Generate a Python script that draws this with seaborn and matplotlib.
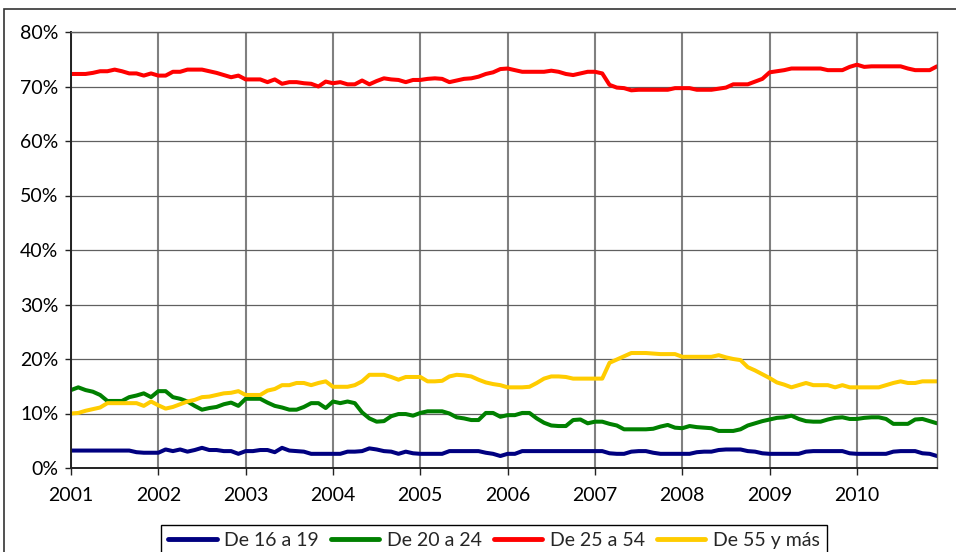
import numpy as np
import pandas as pd
import seaborn as sns
import matplotlib.pyplot as plt
from matplotlib.patches import Rectangle
from matplotlib.ticker import FuncFormatter

anios = list(range(2001, 2011))
grupos = ['De 16 a 19', 'De 20 a 24', 'De 25 a 54', 'De 55 y más']
colores = ['#000080', '#008000', '#FF0000', '#FFCC00']

# monthly shares (%), Jan 2001 - Dec 2010, one row per year
de_16_a_19 = [
    3.2, 3.2, 3.2, 3.2, 3.2, 3.2, 3.2, 3.2, 3.2, 2.9, 2.8, 2.8,
    2.8, 3.4, 3.1, 3.4, 3.0, 3.3, 3.7, 3.3, 3.3, 3.1, 3.1, 2.6,
    3.1, 3.1, 3.3, 3.3, 2.9, 3.7, 3.2, 3.1, 3.0, 2.6, 2.6, 2.6,
    2.6, 2.6, 3.0, 3.0, 3.1, 3.6, 3.4, 3.1, 3.0, 2.6, 3.0, 2.7,
    2.6, 2.6, 2.6, 2.6, 3.1, 3.1, 3.1, 3.1, 3.1, 2.8, 2.6, 2.2,
    2.6, 2.6, 3.1, 3.1, 3.1, 3.1, 3.1, 3.1, 3.1, 3.1, 3.1, 3.1,
    3.1, 3.1, 2.7, 2.6, 2.6, 3.0, 3.1, 3.1, 2.8, 2.6, 2.6, 2.6,
    2.6, 2.6, 2.9, 3.0, 3.0, 3.3, 3.4, 3.4, 3.4, 3.1, 3.0, 2.7,
    2.6, 2.6, 2.6, 2.6, 2.6, 3.0, 3.1, 3.1, 3.1, 3.1, 3.1, 2.7,
    2.6, 2.6, 2.6, 2.6, 2.6, 3.0, 3.1, 3.1, 3.1, 2.7, 2.6, 2.2,
]
de_20_a_24 = [
    14.3, 14.8, 14.3, 14.0, 13.4, 12.3, 12.3, 12.3, 13.0, 13.3, 13.7, 13.0,
    14.1, 14.1, 13.0, 12.7, 12.2, 11.4, 10.7, 11.0, 11.2, 11.7, 12.0, 11.4,
    12.7, 12.7, 12.7, 12.0, 11.4, 11.1, 10.7, 10.7, 11.2, 11.9, 11.9, 11.0,
    12.2, 11.9, 12.2, 11.9, 10.2, 9.1, 8.5, 8.6, 9.5, 9.9, 9.9, 9.6,
    10.1, 10.4, 10.4, 10.4, 10.0, 9.3, 9.1, 8.8, 8.8, 10.1, 10.1, 9.4,
    9.7, 9.7, 10.1, 10.1, 9.1, 8.3, 7.8, 7.7, 7.7, 8.8, 8.9, 8.2,
    8.5, 8.5, 8.1, 7.8, 7.1, 7.1, 7.1, 7.1, 7.2, 7.6, 7.9, 7.4,
    7.3, 7.7, 7.5, 7.4, 7.3, 6.8, 6.8, 6.8, 7.1, 7.8, 8.2, 8.6,
    8.9, 9.2, 9.3, 9.6, 9.0, 8.6, 8.5, 8.5, 8.9, 9.2, 9.3, 9.0,
    9.0, 9.2, 9.3, 9.3, 9.0, 8.1, 8.1, 8.1, 8.9, 9.0, 8.6, 8.2,
]
de_25_a_54 = [
    72.3, 72.3, 72.3, 72.5, 72.8, 72.8, 73.1, 72.8, 72.4, 72.4, 72.0, 72.4,
    72.0, 72.0, 72.7, 72.7, 73.1, 73.1, 73.1, 72.8, 72.5, 72.1, 71.7, 72.0,
    71.3, 71.3, 71.3, 70.8, 71.3, 70.5, 70.8, 70.8, 70.6, 70.5, 70.0, 70.9,
    70.6, 70.8, 70.4, 70.4, 71.1, 70.4, 71.0, 71.5, 71.3, 71.2, 70.8, 71.2,
    71.2, 71.4, 71.5, 71.4, 70.8, 71.1, 71.4, 71.5, 71.8, 72.3, 72.6, 73.2,
    73.3, 73.0, 72.7, 72.7, 72.7, 72.7, 72.9, 72.7, 72.3, 72.1, 72.4, 72.7,
    72.7, 72.4, 70.3, 69.8, 69.7, 69.3, 69.4, 69.4, 69.4, 69.4, 69.4, 69.7,
    69.7, 69.7, 69.4, 69.4, 69.4, 69.6, 69.8, 70.4, 70.4, 70.4, 70.9, 71.4,
    72.6, 72.8, 73.0, 73.3, 73.3, 73.3, 73.3, 73.3, 73.0, 73.0, 73.0, 73.6,
    74.0, 73.6, 73.7, 73.7, 73.7, 73.7, 73.7, 73.3, 73.0, 73.0, 73.0, 73.7,
]
de_55_y_mas = [
    10.0, 10.1, 10.5, 10.8, 11.1, 11.9, 11.9, 11.9, 11.9, 11.9, 11.4, 12.2,
    11.5, 10.9, 11.2, 11.7, 12.2, 12.5, 13.0, 13.1, 13.4, 13.7, 13.8, 14.1,
    13.4, 13.4, 13.4, 14.2, 14.5, 15.2, 15.2, 15.6, 15.6, 15.2, 15.6, 15.9,
    14.9, 14.9, 14.9, 15.2, 15.9, 17.1, 17.1, 17.1, 16.7, 16.2, 16.7, 16.7,
    16.7, 15.9, 15.9, 16.0, 16.8, 17.1, 17.0, 16.8, 16.2, 15.7, 15.4, 15.2,
    14.8, 14.8, 14.8, 14.9, 15.6, 16.4, 16.8, 16.8, 16.7, 16.4, 16.4, 16.4,
    16.4, 16.4, 19.3, 19.9, 20.5, 21.1, 21.1, 21.1, 21.0, 20.9, 20.9, 20.9,
    20.4, 20.4, 20.4, 20.4, 20.4, 20.7, 20.3, 20.0, 19.8, 18.5, 17.9, 17.2,
    16.5, 15.7, 15.3, 14.8, 15.2, 15.6, 15.2, 15.2, 15.2, 14.8, 15.2, 14.8,
    14.8, 14.8, 14.8, 14.8, 15.2, 15.6, 15.9, 15.6, 15.6, 15.9, 15.9, 15.9,
]

meses = [a + m / 12 for a in anios for m in range(12)]

frame = pd.DataFrame({
    'fecha': meses * 4,
    'valor': de_16_a_19 + de_20_a_24 + de_25_a_54 + de_55_y_mas,
    'grupo': np.repeat(grupos, len(meses)),
})

sns.set_style('white')
plt.rcParams['font.family'] = ['Lato', 'DejaVu Sans']

fig = plt.figure(figsize=(9.56, 5.52), dpi=100)
ax = fig.add_axes([71 / 956, 1 - 468 / 552, (937 - 71) / 956, (468 - 32) / 552])

sns.lineplot(data=frame, x='fecha', y='valor', hue='grupo',
             hue_order=grupos, palette=colores,
             linewidth=2.9, ax=ax)

ax.set_xlim(2001, 2001 + 119 / 12)
ax.set_ylim(0, 80)
ax.set_xticks(anios)
ax.set_yticks(range(0, 81, 10))
ax.yaxis.set_major_formatter(FuncFormatter(lambda v, _: f'{v:.0f}%'))

ax.set_axisbelow(True)
ax.grid(axis='x', color='#808080', linewidth=1.5)
ax.grid(axis='y', color='#606060', linewidth=0.9)

for side in ['left', 'bottom']:
    ax.spines[side].set_color('#222222')
    ax.spines[side].set_linewidth(1.4)
for side in ['top', 'right']:
    ax.spines[side].set_color('#606060')
    ax.spines[side].set_linewidth(1.0)

ax.tick_params(axis='x', bottom=True, length=5, width=1, pad=9,
               labelsize=14, colors='#222222', labelcolor='black')
ax.tick_params(axis='y', left=True, length=4, width=1, pad=5,
               labelsize=14, colors='#222222', labelcolor='black')
ax.set_xlabel('')
ax.set_ylabel('')

handles, labels = ax.get_legend_handles_labels()
ax.get_legend().remove()
leg = fig.legend(handles, labels, loc='upper center',
                 bbox_to_anchor=(494 / 956, 1 - 525 / 552),
                 borderaxespad=0,
                 ncol=4, frameon=True, fancybox=False, framealpha=1,
                 edgecolor='black', fontsize=14, handlelength=2.5,
                 handletextpad=0.4, columnspacing=0.6, borderpad=0.35)
leg.get_frame().set_linewidth(1.0)
for line in leg.get_lines():
    line.set_linewidth(3.5)

# chart area border (cropped on the right and bottom)
fig.add_artist(Rectangle((4 / 956, -0.2), 1.2, 1 - 9 / 552 + 0.2,
                         transform=fig.transFigure, fill=False,
                         edgecolor='#333333', linewidth=1.2))

fig.savefig('out.png', dpi=100)
